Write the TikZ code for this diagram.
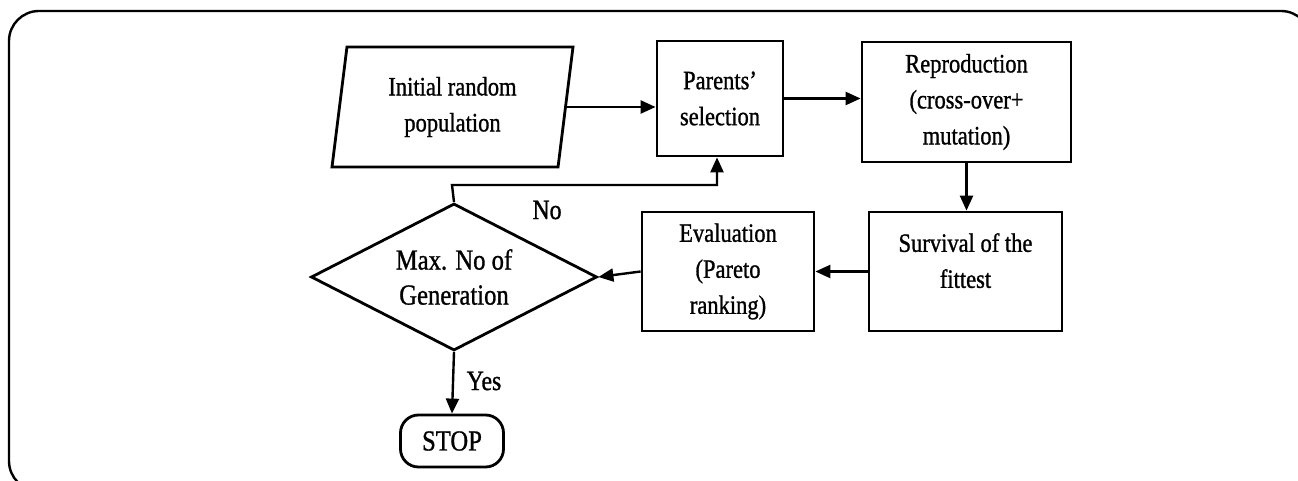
\documentclass[tikz,border=0pt]{standalone}
\usepackage{fontspec}
\setmainfont{Liberation Serif}[FakeStretch=0.85,FakeBold=1]
\usetikzlibrary{shapes.geometric,arrows.meta}
\tikzset{
  shapebox/.style={draw,line width=2.8pt,inner sep=0pt,align=center,
    font=\fontsize{26.5}{36}\selectfont},
  conn/.style={line width=2.4pt,-{Triangle[length=15pt,width=13pt]}},
  lbl/.style={font=\fontsize{28}{30}\selectfont,inner sep=0pt}
}
\begin{document}
\begin{tikzpicture}[x=1pt,y=-1pt]
\useasboundingbox (0,0) rectangle (1298,481);
\begin{scope}
\clip (0,0) rectangle (1298,481);
\draw[line width=2.4pt,rounded corners=30pt] (9,11) rectangle (1311,491);
\end{scope}

\node[shapebox,trapezium,trapezium left angle=76,trapezium right angle=104,
  trapezium stretches body,minimum width=241pt,minimum height=120pt] (init) at (452.5,107) {Initial random\\population};
\node[shapebox,minimum width=126pt,minimum height=115pt] (par) at (720,98.5) {Parents’\\selection};
\node[shapebox,minimum width=209pt,minimum height=120pt] (rep) at (966.5,102) {Reproduction\\(cross-over+\\mutation)};
\node[shapebox,minimum width=193pt,minimum height=119pt] (surv) at (965.5,271.5) {Survival of the\\fittest\\[-14pt]};
\node[shapebox,minimum width=172pt,minimum height=119pt] (eval) at (728,271.5) {Evaluation\\(Pareto\\ranking)};
\node[shapebox,diamond,aspect=1.95,minimum width=286pt,minimum height=147pt,
  font=\fontsize{29}{35}\selectfont] (dec) at (454,277) {Max. No of\\Generation};
\node[shapebox,rounded corners=18pt,minimum width=103pt,minimum height=52pt,
  font=\fontsize{29}{30}\selectfont] (stop) at (452,441) {STOP};

\coordinate (nocorner) at (452,185);
\coordinate (noturn) at (717,185);

\draw[conn] (init.east) -- (init.east -| par.west);
\draw[conn] (par.east) -- (par.east -| rep.west);
\draw[conn] (rep.south) -- (surv.north -| rep.south);
\draw[conn] (surv.west) -- (eval.east);
\draw[conn] (eval.west) -- (dec.east);
\draw[conn] (dec.north) -- (nocorner) -- (noturn) -- (noturn |- par.south);
\draw[conn] (dec.south) -- (stop.north);

\node[lbl] (nolbl) at (547,210) {No};
\node[lbl] (yeslbl) at (484,381) {Yes};
\end{tikzpicture}
\end{document}
